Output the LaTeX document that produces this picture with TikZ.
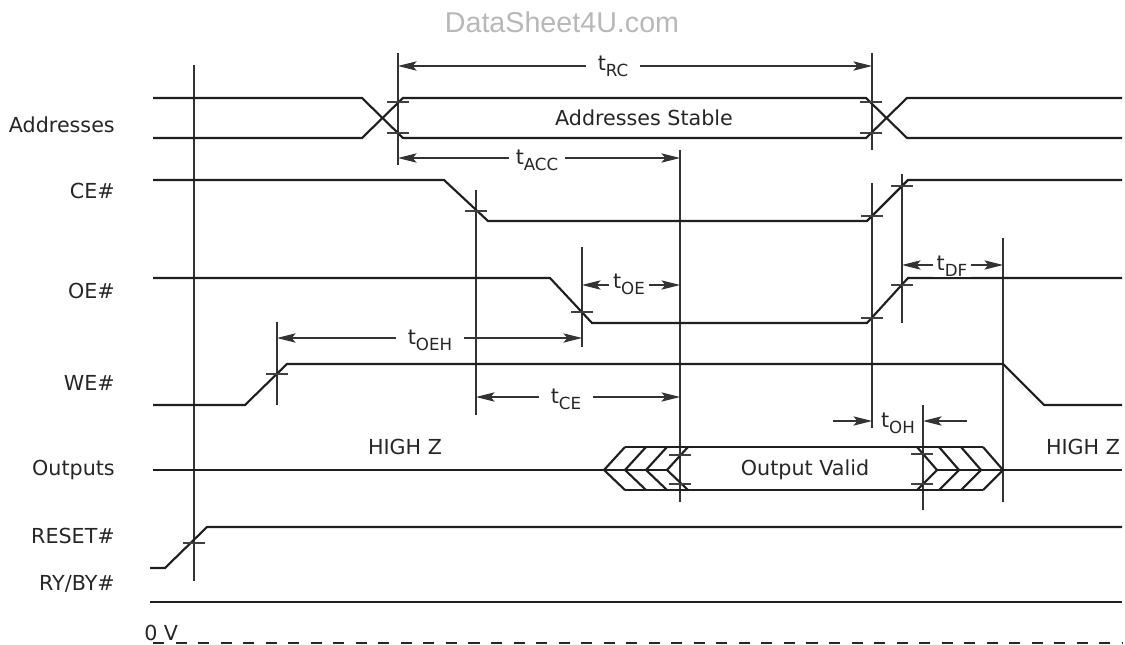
\documentclass[tikz,border=0pt]{standalone}
\usepackage{fontspec}
\setmainfont{DejaVu Sans}
\newfontfamily\wmfont{Liberation Sans}
\usetikzlibrary{arrows.meta}
\newcommand\tsb[1]{t\raisebox{-0.28em}{\fontsize{12.5}{13}\selectfont #1}}
\begin{document}
\begin{tikzpicture}[x=0.75pt,y=-0.75pt,
  sig/.style={line width=1.6pt, draw=black!88, line join=miter},
  guide/.style={line width=0.8pt, draw=black!80},
  tickmark/.style={line width=0.8pt, draw=black!75},
  dim/.style={line width=0.8pt, draw=black!80,
    {Stealth[length=14pt,width=7pt,inset=3pt]}-{Stealth[length=14pt,width=7pt,inset=3pt]}},
  dimr/.style={line width=0.8pt, draw=black!80, -{Stealth[length=14pt,width=7pt,inset=3pt]}},
  lbl/.style={font=\fontsize{15.5}{18}\selectfont, text=black!85, inner sep=0pt},
  tlbl/.style={lbl, fill=white, inner xsep=5pt, inner ysep=1pt},
  wide/.style={inner xsep=9pt}]
\useasboundingbox (0,0) rectangle (1125,645);

% watermark
\node[font=\wmfont\fontsize{21.5}{24}\selectfont, text=black!28] (wm) at (562,22) {DataSheet4U.com};

% left labels
\node[lbl, anchor=east] (lA) at (115,125) {Addresses};
\node[lbl, anchor=east] (lCE) at (115,191) {CE\#};
\node[lbl, anchor=east] (lOE) at (115,291) {OE\#};
\node[lbl, anchor=east] (lWE) at (115,383) {WE\#};
\node[lbl, anchor=east] (lO) at (115,470) {Outputs};
\node[lbl, anchor=east] (lR) at (115,536) {RESET\#};
\node[lbl, anchor=east] (lRY) at (115,584) {RY/BY\#};
\node[lbl, anchor=south west] (l0) at (144,641) {0 V};

% guide lines
\draw[guide] (194,65) -- (194,581);
\draw[guide] (277,322) -- (277,405);
\draw[guide] (398,53) -- (398,165);
\draw[guide] (476,190) -- (476,415);
\draw[guide] (582,247) -- (582,347);
\draw[guide] (680,150) -- (680,502);
\draw[guide] (872,53) -- (872,150);
\draw[guide] (872,183) -- (872,428);
\draw[guide] (902,174) -- (902,323);
\draw[guide] (923,405) -- (923,510);
\draw[guide] (1003,238) -- (1003,502);

% signals
\draw[sig] (153,98) -- (362,98) -- (403,138) -- (866,138) -- (907,98) -- (1122,98);
\draw[sig] (153,138) -- (362,138) -- (403,98) -- (866,98) -- (907,138) -- (1122,138);
\draw[sig] (153,180) -- (444,180) -- (488,221) -- (867,221) -- (908,180) -- (1122,180);
\draw[sig] (153,278) -- (550,278) -- (592,323) -- (867,323) -- (908,278) -- (1122,278);
\draw[sig] (153,405) -- (245,405) -- (287,364) -- (1003,364) -- (1044,405) -- (1122,405);
\draw[sig] (150,568) -- (165,568) -- (207,527) -- (1122,527);
\draw[sig] (150,602) -- (1122,602);
\draw[line width=1.2pt, draw=black!85, dash pattern=on 8.3pt off 8.6pt] (153,643) -- (1122,643);

% outputs
\draw[sig] (153,470) -- (667,470);
\draw[sig] (937,470) -- (1122,470);
\draw[sig] (625,447) -- (983,447);
\draw[sig] (625,490) -- (983,490);
\foreach \t in {604,625,646,667} \draw[sig] (\t+21,447) -- (\t,470) -- (\t+21,490);
\foreach \s in {917,939,961,983} \draw[sig] (\s,447) -- (\s+20,470) -- (\s,490);

% tick marks
\foreach \x/\y in {398/102,398/133,871/102,871/133,476/211,582/312,872/216,902/186,872/318,902/285,277/374,194/543,680/455,680/484,922/454,922/484}
  \draw[tickmark] (\x-11,\y) -- (\x+11,\y);

% signal texts
\node[lbl] (as) at (644,118) {Addresses Stable};
\node[lbl] (ov) at (805,470) {Output Valid};
\node[lbl] (hz1) at (405,447) {HIGH Z};
\node[lbl] (hz2) at (1083,447) {HIGH Z};

% timing dimensions
\draw[dim] (398,66) -- (872,66);
\node[tlbl, wide] (tRC) at (613,66) {\tsb{RC}};
\draw[dim] (398,158) -- (680,158);
\node[tlbl] (tACC) at (537,160) {\tsb{ACC}};
\draw[dim] (582,285) -- (680,285);
\node[tlbl, inner xsep=3pt] (tOE) at (629,284) {\tsb{OE}};
\draw[dim] (902,265) -- (1003,265);
\node[tlbl, inner xsep=3pt] (tDF) at (952,266) {\tsb{DF}};
\draw[dim] (277,338) -- (582,338);
\node[tlbl, wide] (tOEH) at (430,340) {\tsb{OEH}};
\draw[dim] (476,397) -- (680,397);
\node[tlbl, wide] (tCE) at (566,399) {\tsb{CE}};
\draw[dimr] (833,421) -- (872,421);
\draw[dimr] (967,421) -- (923,421);
\node[lbl] (tOH) at (898,423) {\tsb{OH}};
\end{tikzpicture}
\end{document}
